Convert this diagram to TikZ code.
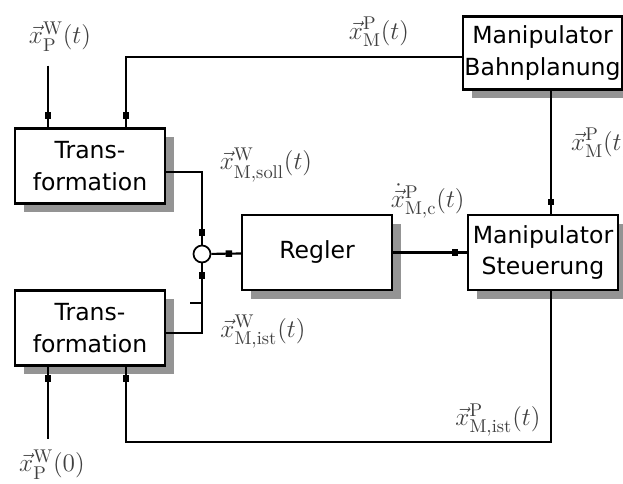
\documentclass[tikz,border=0pt]{standalone}
\usepackage{amsmath}
\usepackage{fontspec}
\newfontfamily\blockfont{DejaVu Sans}
\usetikzlibrary{positioning,calc,shadows,decorations.markings}

\begin{document}
\begin{tikzpicture}[
  blk/.style = {draw=black, line width=1.2pt, fill=white, align=center, inner sep=1pt,
                minimum width=30mm, minimum height=15mm,
                font=\blockfont\fontsize{13.4}{18}\selectfont,
                general shadow={fill=black!42, shadow xshift=1.8mm, shadow yshift=-1.8mm}},
  sumc/.style = {draw=black, line width=1pt, circle, minimum size=3.4mm, inner sep=0pt},
  lbl/.style  = {font=\fontsize{15}{18}\selectfont, text=black!75},
  sig/.style  = {line width=1.2pt, postaction={decorate}, decoration={markings,
                 mark=at position -2.4mm with {\fill (-0.65mm,-0.65mm) rectangle (0.65mm,0.65mm);}}}]

\useasboundingbox (0,0) rectangle (12.46,-9.68);

% blocks
\node[blk] (t1) at (1.80,-3.32) {Trans-\\formation};
\node[blk] (t2) at (1.80,-6.56) {Trans-\\formation};
\node[blk, minimum height=14.6mm] (bp) at (10.85,-1.06) {Manipulator\\Bahnplanung};
\node[blk] (st) at (10.86,-5.05) {Manipulator\\Steuerung};
\node[blk] (rg) at (6.34,-5.05) {Regler};
\node[sumc] (sum) at (4.04,-5.08) {};

% input points on the two transformation blocks, right column of the loop
\coordinate (t1a) at ($(t1.north west)+(0.68,0)$);
\coordinate (t1b) at ($(t1.north west)+(2.24,0)$);
\coordinate (t2a) at ($(t2.south west)+(0.68,0)$);
\coordinate (t2b) at ($(t2.south west)+(2.24,0)$);
\coordinate (ret) at (11.02,-8.84);
\coordinate (neg) at (3.80,-6.06);

% signal labels
\node[lbl] (xpwt)  at (1.20,-0.74) {$\vec{x}^{\mathrm{W}}_{\mathrm{P}}(t)$};
\node[lbl] (xmpt)  at (7.58,-0.64) {$\vec{x}^{\mathrm{P}}_{\mathrm{M}}(t)$};
\node[lbl, anchor=west] (xmpr) at (11.30,-2.86) {$\vec{x}^{\mathrm{P}}_{\mathrm{M}}(t)$};
\node[lbl] (xsoll) at (5.32,-3.30) {$\vec{x}^{\mathrm{W}}_{\mathrm{M,soll}}(t)$};
\node[lbl, anchor=south east, inner sep=0pt] (xdot) at ($(st.north west)+(-0.04,-0.10)$)
  {$\dot{\vec{x}}^{\mathrm{P}}_{\mathrm{M,c}}(t)$};
\node[lbl] (xist)  at (5.26,-6.64) {$\vec{x}^{\mathrm{W}}_{\mathrm{M,ist}}(t)$};
\node[lbl] (xpist) at (9.96,-8.40) {$\vec{x}^{\mathrm{P}}_{\mathrm{M,ist}}(t)$};
\node[lbl] (xp0)   at (1.04,-9.30) {$\vec{x}^{\mathrm{W}}_{\mathrm{P}}(0)$};

% forward path
\draw[sig] ([yshift=-1.5mm]t1a |- xpwt.south) -- (t1a);
\draw[sig] ([yshift=-0.8mm]bp.west) -| (t1b);
\draw[sig] ([yshift=-1.2mm]t1.east) -| (sum.north);
\draw[sig] ([yshift=-1mm]t2.east) -| (sum.south);
\draw[line width=1.2pt] (neg) -- (neg -| sum);
\draw[sig] (sum) -- (rg);
\draw[sig] (rg) -- (st);
\draw[sig] (ret |- bp.south) -- (ret |- st.north);

% feedback of the actual position
\draw[sig] (ret |- st.south) -- (ret) -| (t2b);
\draw[sig] ([yshift=1mm]t2a |- xp0.north) -- (t2a);

\end{tikzpicture}
\end{document}
